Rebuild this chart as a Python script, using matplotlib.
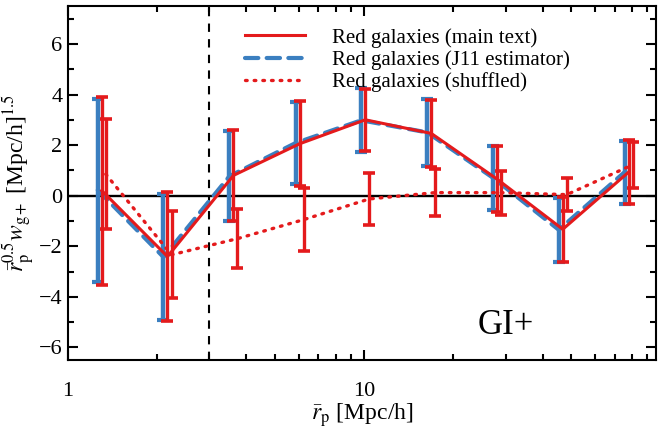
import numpy as np
import matplotlib
matplotlib.use('Agg')
import matplotlib.pyplot as plt
from matplotlib import ticker

plt.rcParams['font.family'] = ['Liberation Serif', 'DejaVu Serif']
plt.rcParams['mathtext.fontset'] = 'stix'

# bin centres (Mpc/h)
rp = np.array([1.29, 2.15, 3.59, 6.0, 10.0, 16.7, 27.8, 46.4, 77.4])

# Red galaxies (main text)
main_val = [0.2, -2.41, 0.8, 2.05, 3.0, 2.46, 0.66, -1.33, 0.93]
main_err = [3.72, 2.54, 1.8, 1.68, 1.23, 1.32, 1.32, 1.28, 1.26]

# Red galaxies (J11 estimator)
j11_val = [0.22, -2.43, 0.77, 2.08, 2.98, 2.5, 0.71, -1.35, 0.93]
j11_err = [3.62, 2.5, 1.79, 1.62, 1.26, 1.31, 1.27, 1.26, 1.25]

# Red galaxies (shuffled)
shuf_val = [0.85, -2.34, -1.7, -0.95, -0.13, 0.12, 0.12, 0.04, 1.22]
shuf_err = [2.17, 1.72, 1.17, 1.25, 1.03, 0.94, 0.87, 0.66, 0.92]

red = '#e41a1c'
blue = '#3b7fc0'

fig = plt.figure(figsize=(6.58, 4.28), dpi=100)
ax = fig.add_axes([68 / 658, 68 / 428, 588 / 658, 354 / 428])

ax.axhline(0, color='black', lw=1.7, zorder=1)
ax.axvline(3.0, color='black', lw=1.5, ls=(0, (4, 3.5)), zorder=1)

eb_j11 = ax.errorbar(rp * 10 ** (-3 / 296), j11_val, yerr=j11_err, color=blue, lw=3,
                     dashes=(3.2, 2.0), dash_capstyle='round', elinewidth=3.2,
                     capsize=4.3, capthick=3, zorder=2)
eb_main = ax.errorbar(rp * 10 ** (1 / 296), main_val, yerr=main_err, color=red, lw=2.2,
                      elinewidth=2.4, capsize=4.3, capthick=2.6, zorder=3)
eb_shuf = ax.errorbar(rp * 10 ** (5 / 296), shuf_val, yerr=shuf_err, color=red, lw=2.4,
                      ls=(0, (0.5, 2.1)), dash_capstyle='round', elinewidth=2.4,
                      capsize=4.3, capthick=2.6, zorder=3)

ax.set_xscale('log')
ax.set_xlim(1, 96.5)
ax.set_ylim(-6.5, 7.5)
ax.xaxis.set_major_formatter(ticker.FormatStrFormatter('%g'))
ax.xaxis.set_minor_formatter(ticker.NullFormatter())
ax.yaxis.set_major_locator(ticker.MultipleLocator(2))
ax.yaxis.set_minor_locator(ticker.MultipleLocator(1))

ax.tick_params(which='both', direction='in', top=True, right=True, width=1.5)
ax.tick_params(which='major', length=7.5, labelsize=16)
ax.tick_params(which='minor', length=4.5)
ax.tick_params(axis='x', which='major', pad=16)
ax.tick_params(axis='y', which='major', pad=4)
for s in ax.spines.values():
    s.set_linewidth(1.5)

ax.set_xlabel(r'$\bar{r}_{\rm p}$ [Mpc/h]', fontsize=17, labelpad=0)
ax.set_ylabel(r'$\bar{r}_{\rm p}^{0.5}w_{\rm g+}$ [Mpc/h]$^{1.5}$', fontsize=17, labelpad=1)

ax.legend([eb_main[0], eb_j11[0], eb_shuf[0]],
          ['Red galaxies (main text)', 'Red galaxies (J11 estimator)',
           'Red galaxies (shuffled)'],
          loc='upper left', bbox_to_anchor=((245 - 68) / 588, 1 - 22 / 354),
          frameon=False, fontsize=15, handlelength=2.9, handletextpad=1.3,
          labelspacing=0.12, borderpad=0, borderaxespad=0)

ax.text(0.745, 0.097, 'GI+', transform=ax.transAxes, fontsize=25,
        ha='center', va='center')

fig.savefig('out.png', dpi=100)
